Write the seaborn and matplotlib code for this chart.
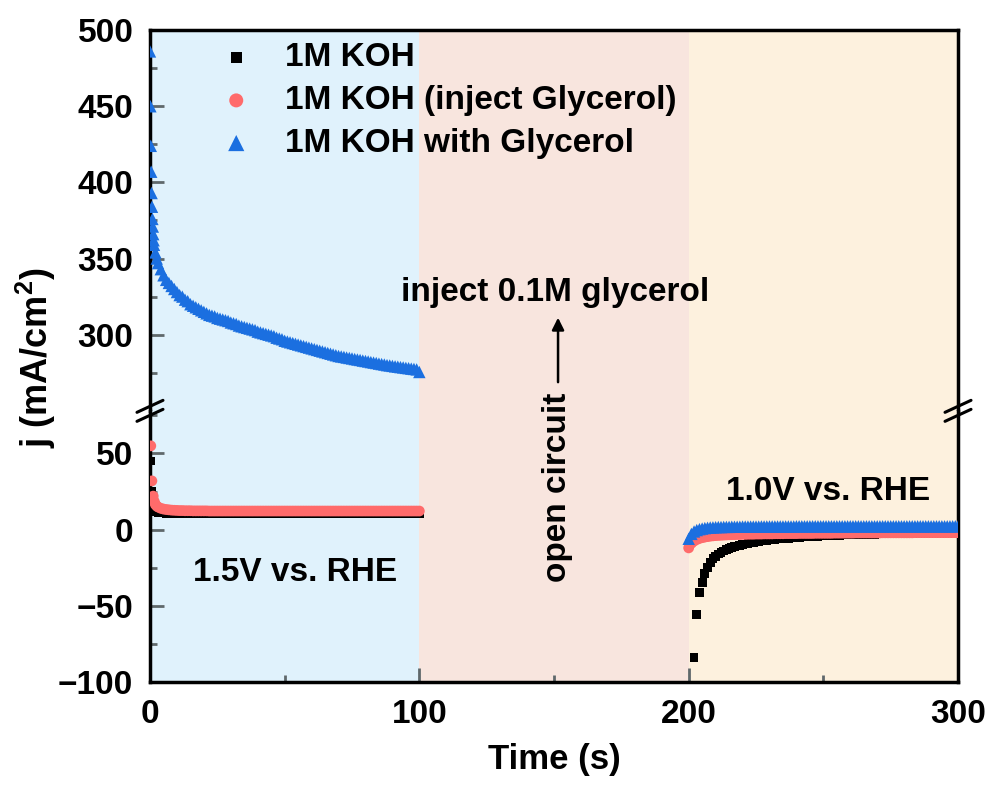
import numpy as np
import pandas as pd
import matplotlib
matplotlib.use("Agg")
import matplotlib.pyplot as plt
import seaborn as sns

sns.set_style("ticks")
plt.rcParams['font.family'] = ['Liberation Sans', 'DejaVu Sans']
plt.rcParams['font.weight'] = 'bold'
plt.rcParams['text.color'] = 'black'
plt.rcParams['axes.labelcolor'] = 'black'
plt.rcParams['xtick.labelcolor'] = 'black'
plt.rcParams['ytick.labelcolor'] = 'black'
plt.rcParams['mathtext.fontset'] = 'custom'
plt.rcParams['mathtext.rm'] = 'Liberation Sans:bold'
plt.rcParams['mathtext.bf'] = 'Liberation Sans:bold'

# ---------------- data ----------------
labels = ["1M KOH", "1M KOH (inject Glycerol)", "1M KOH with Glycerol"]

# segment 1: 0-100 s at 1.5 V vs. RHE
t_koh_1 = [0.2, 0.6, 1, 1.5, 2, 3] + list(range(4, 101))
j_koh_1 = [45, 25, 16, 13, 12, 11.3,
           11.0, 10.9, 10.8, 10.8, 10.7, 10.7, 10.7, 10.7, 10.7, 10.7,
           10.7, 10.7, 10.7, 10.7, 10.7, 10.7, 10.7, 10.7, 10.7, 10.7,
           10.7, 10.7, 10.7, 10.7, 10.7, 10.7, 10.7, 10.7, 10.7, 10.7,
           10.7, 10.7, 10.7, 10.7, 10.7, 10.7, 10.7, 10.7, 10.7, 10.7,
           10.7, 10.7, 10.7, 10.7, 10.7, 10.7, 10.7, 10.7, 10.7, 10.7,
           10.7, 10.7, 10.7, 10.7, 10.7, 10.7, 10.7, 10.7, 10.7, 10.7,
           10.7, 10.7, 10.7, 10.7, 10.7, 10.7, 10.7, 10.7, 10.7, 10.7,
           10.7, 10.7, 10.7, 10.7, 10.7, 10.7, 10.7, 10.7, 10.7, 10.7,
           10.7, 10.7, 10.7, 10.7, 10.7, 10.7, 10.7, 10.7, 10.7, 10.7,
           10.7, 10.7, 10.7, 10.7, 10.7, 10.7, 10.7]

t_inj_1 = [0.3, 0.7, 1.2, 1.6, 2, 2.5, 3] + list(range(4, 101))
j_inj_1 = [55, 32, 22, 18.5, 16.5, 15.5, 14.8,
           14.0, 13.5, 13.2, 13.0, 12.8, 12.7, 12.6, 12.5, 12.5, 12.4,
           12.4, 12.4, 12.3, 12.3, 12.3, 12.3, 12.3, 12.3, 12.2, 12.2,
           12.2, 12.2, 12.2, 12.2, 12.2, 12.2, 12.2, 12.2, 12.2, 12.2,
           12.2, 12.2, 12.2, 12.2, 12.2, 12.2, 12.2, 12.2, 12.2, 12.2,
           12.2, 12.2, 12.2, 12.2, 12.2, 12.2, 12.2, 12.2, 12.2, 12.2,
           12.2, 12.2, 12.2, 12.2, 12.2, 12.2, 12.2, 12.2, 12.2, 12.2,
           12.2, 12.2, 12.2, 12.2, 12.2, 12.2, 12.2, 12.2, 12.2, 12.2,
           12.2, 12.2, 12.2, 12.2, 12.2, 12.2, 12.2, 12.2, 12.2, 12.2,
           12.2, 12.2, 12.2, 12.2, 12.2, 12.2, 12.2, 12.2, 12.2, 12.2,
           12.2, 12.2, 12.2, 12.2, 12.2, 12.2, 12.2]

t_gly_1 = [0, 0.15, 0.3, 0.45, 0.6, 0.75, 0.9, 1.05, 1.2, 1.35, 1.5, 2, 2.5, 3] + list(range(4, 101))
j_gly_1 = [486, 450, 424, 407, 393, 384, 376, 371, 366, 362, 359, 354, 350, 347,
           343, 339, 336, 334, 332, 330, 328, 326, 325, 323,
           322, 320, 319, 318, 317, 316, 315, 314, 313, 312.5,
           312, 311, 310.5, 310, 309.5, 309, 308, 307.5, 307, 306,
           305.5, 305, 304.5, 304, 303.5, 303, 302, 301.5, 301, 300.5,
           300, 299.5, 299, 298, 297.5, 297, 296, 295.5, 295, 294.5,
           294, 293.5, 293, 292.5, 292, 291.5, 291, 290.5, 290, 289.5,
           289, 288.5, 288, 287.5, 287, 286.5, 286, 285.7, 285.4, 285,
           284.7, 284.4, 284, 283.7, 283.4, 283, 282.7, 282.4, 282, 281.7,
           281.4, 281, 280.7, 280.4, 280, 279.8, 279.5, 279.2, 279, 278.7,
           278.5, 278.2, 278, 277.7, 277.5, 277.2, 275.5]

# segment 2: 200-300 s at 1.0 V vs. RHE
t_koh_2 = list(range(202, 301))
j_koh_2 = [-84, -55.5, -41.5, -34.5, -29, -25, -21.5, -19, -17.5, -16,
           -15, -14, -13.2, -12.5, -11.8, -11.3, -10.8, -10.3, -9.9, -9.5,
           -9.1, -8.7, -8.4, -8.1, -7.8, -7.5, -7.3, -7.0, -6.8, -6.6,
           -6.4, -6.2, -6.0, -5.9, -5.8, -5.6, -5.5, -5.3, -5.2, -5.0,
           -4.9, -4.8, -4.7, -4.6, -4.5, -4.4, -4.3, -4.2, -4.1, -4.0,
           -3.9, -3.9, -3.8, -3.7, -3.7, -3.6, -3.5, -3.5, -3.4, -3.4,
           -3.3, -3.3, -3.2, -3.2, -3.1, -3.1, -3.0, -3.0, -2.9, -2.9,
           -2.9, -2.8, -2.8, -2.8, -2.7, -2.7, -2.7, -2.6, -2.6, -2.6,
           -2.6, -2.5, -2.5, -2.5, -2.5, -2.4, -2.4, -2.4, -2.4, -2.4,
           -2.3, -2.3, -2.3, -2.3, -2.3, -2.2, -2.2, -2.2, -2.2]

t_inj_2 = list(range(200, 301))
j_inj_2 = [-12, -9, -7.5, -6.5, -5.8, -5.3, -4.9, -4.6, -4.3, -4.1,
           -3.9, -3.8, -3.7, -3.6, -3.5, -3.4, -3.3, -3.3, -3.2, -3.2,
           -3.1, -3.1, -3.0, -3.0, -3.0, -2.9, -2.9, -2.9, -2.8, -2.8,
           -2.8, -2.8, -2.7, -2.7, -2.7, -2.7, -2.6, -2.6, -2.6, -2.6,
           -2.6, -2.5, -2.5, -2.5, -2.5, -2.5, -2.5, -2.4, -2.4, -2.4,
           -2.4, -2.4, -2.4, -2.4, -2.3, -2.3, -2.3, -2.3, -2.3, -2.3,
           -2.3, -2.3, -2.2, -2.2, -2.2, -2.2, -2.2, -2.2, -2.2, -2.2,
           -2.2, -2.2, -2.1, -2.1, -2.1, -2.1, -2.1, -2.1, -2.1, -2.1,
           -2.1, -2.1, -2.1, -2.1, -2.0, -2.0, -2.0, -2.0, -2.0, -2.0,
           -2.0, -2.0, -2.0, -2.0, -2.0, -2.0, -2.0, -2.0, -2.0, -2.0,
           -2.0]

t_gly_2 = list(range(200, 301))
j_gly_2 = [-6, -2.8, -1.2, -0.3, 0.3, 0.7, 1.0, 1.2, 1.4, 1.5,
           1.6, 1.7, 1.7, 1.8, 1.8, 1.8, 1.9, 1.9, 1.9, 1.9,
           2.0, 2.0, 2.0, 2.0, 2.0, 2.0, 2.0, 2.1, 2.1, 2.1,
           2.1, 2.1, 2.1, 2.1, 2.1, 2.1, 2.1, 2.1, 2.1, 2.1,
           2.2, 2.2, 2.2, 2.2, 2.2, 2.2, 2.2, 2.2, 2.2, 2.2,
           2.2, 2.2, 2.2, 2.2, 2.2, 2.2, 2.2, 2.2, 2.2, 2.2,
           2.2, 2.2, 2.2, 2.2, 2.2, 2.2, 2.2, 2.2, 2.2, 2.2,
           2.2, 2.2, 2.2, 2.2, 2.2, 2.2, 2.2, 2.2, 2.2, 2.2,
           2.2, 2.2, 2.2, 2.2, 2.2, 2.2, 2.2, 2.2, 2.2, 2.2,
           2.2, 2.2, 2.2, 2.2, 2.2, 2.2, 2.2, 2.2, 2.2, 2.2,
           2.2]

regions = [(0, 100), (100, 200), (200, 300)]
region_colors = ["#E0F2FC", "#F8E5DE", "#FDF1DE"]

colors = ["#000000", "#FF6B6B", "#1B6FE0"]
markers = ["s", "o", "^"]
sizes = [40, 60, 80]

# ---------------- figure ----------------
fig = plt.figure(figsize=(9.9, 7.92), dpi=100)
gs = fig.add_gridspec(2, 1, height_ratios=[250, 178], hspace=0.0,
                      left=0.1515, right=0.9677, top=0.962, bottom=0.139)
ax_top = fig.add_subplot(gs[0])
ax_bot = fig.add_subplot(gs[1], sharex=ax_top)

for ax in (ax_top, ax_bot):
    for (a, b), c in zip(regions, region_colors):
        ax.axvspan(a, b, color=c, lw=0, zorder=0)

series = [
    (t_koh_1 + t_koh_2, j_koh_1 + j_koh_2),
    (t_inj_1 + t_inj_2, j_inj_1 + j_inj_2),
    (t_gly_1 + t_gly_2, j_gly_1 + j_gly_2),
]
for ax in (ax_top, ax_bot):
    for i, (t, j) in enumerate(series):
        df = pd.DataFrame({"t": t, "j": j})
        sns.scatterplot(data=df, x="t", y="j", ax=ax, marker=markers[i],
                        color=colors[i], s=sizes[i], linewidth=0,
                        edgecolor="none", zorder=3 + i,
                        label=labels[i] if ax is ax_top else None,
                        legend=False)

ax_top.set_ylim(250, 500)
ax_bot.set_ylim(-100, 78)
ax_top.set_xlim(0, 300)

ax_top.set_yticks([300, 350, 400, 450, 500])
ax_top.set_yticks([275, 325, 375, 425, 475], minor=True)
ax_bot.set_yticks([-100, -50, 0, 50])
ax_bot.set_yticks([-75, -25, 25, 75], minor=True)
ax_bot.set_xticks([0, 100, 200, 300])
ax_bot.set_xticks([50, 150, 250], minor=True)

tick_col = "#5f686b"
for ax in (ax_top, ax_bot):
    ax.tick_params(axis="both", which="major", direction="in", length=10,
                   width=2, color=tick_col, labelsize=24, pad=12,
                   labelcolor="black")
    ax.tick_params(axis="both", which="minor", direction="in", length=5,
                   width=2, color=tick_col)
    ax.tick_params(top=False, right=False)
    for s in ax.spines.values():
        s.set_linewidth(2.5)
        s.set_color("black")
    ax.set_xlabel("")
    ax.set_ylabel("")
    for lab in ax.get_xticklabels() + ax.get_yticklabels():
        lab.set_fontweight("bold")

ax_top.tick_params(axis="x", which="both", bottom=False, labelbottom=False)
ax_top.spines["bottom"].set_visible(False)
ax_bot.spines["top"].set_visible(False)

ax_bot.set_xlabel("Time (s)", fontsize=25, fontweight="bold", labelpad=10,
                  color="black")
fig.text(0.036, 0.549, r"j (mA/cm$^{\mathbf{2}}$)", rotation=90,
         fontsize=26, fontweight="bold", ha="center", va="center",
         color="black")

# break marks
for xf in (0.0, 1.0):
    x0, y0 = ax_bot.transAxes.transform((xf, 1.0))
    for dy in (-4.5, 4.5):
        fig.add_artist(plt.Line2D([(x0 - 13) / 990, (x0 + 13) / 990],
                                  [(y0 + dy - 6) / 792, (y0 + dy + 6) / 792],
                                  transform=fig.transFigure, color="black",
                                  lw=2.2, clip_on=False))

# legend
leg = ax_top.legend(loc="upper left", bbox_to_anchor=(0.049, 1.02),
                    frameon=False, fontsize=24, handletextpad=0.65,
                    handlelength=1.6, labelspacing=0.35, markerscale=1.3,
                    borderaxespad=0.2)
for txt in leg.get_texts():
    txt.set_fontweight("bold")
    txt.set_color("black")

# annotations
ax_top.annotate("", xy=(151.5, 313), xytext=(151.5, 267),
                arrowprops=dict(arrowstyle="-|>", color="black", lw=1.8,
                                mutation_scale=18), zorder=10)
ax_top.text(150.3, 327.5, "inject 0.1M glycerol", fontsize=24,
            fontweight="bold", ha="center", va="center", zorder=10)
ax_bot.text(151.3, 28, "open circuit", fontsize=24, fontweight="bold",
            rotation=90, ha="center", va="center", zorder=10, clip_on=False)
ax_bot.text(54, -28, "1.5V vs. RHE", fontsize=24, fontweight="bold",
            ha="center", va="center", zorder=10)
ax_bot.text(251.7, 25, "1.0V vs. RHE", fontsize=24, fontweight="bold",
            ha="center", va="center", zorder=10)

fig.savefig("out.png", dpi=100)
